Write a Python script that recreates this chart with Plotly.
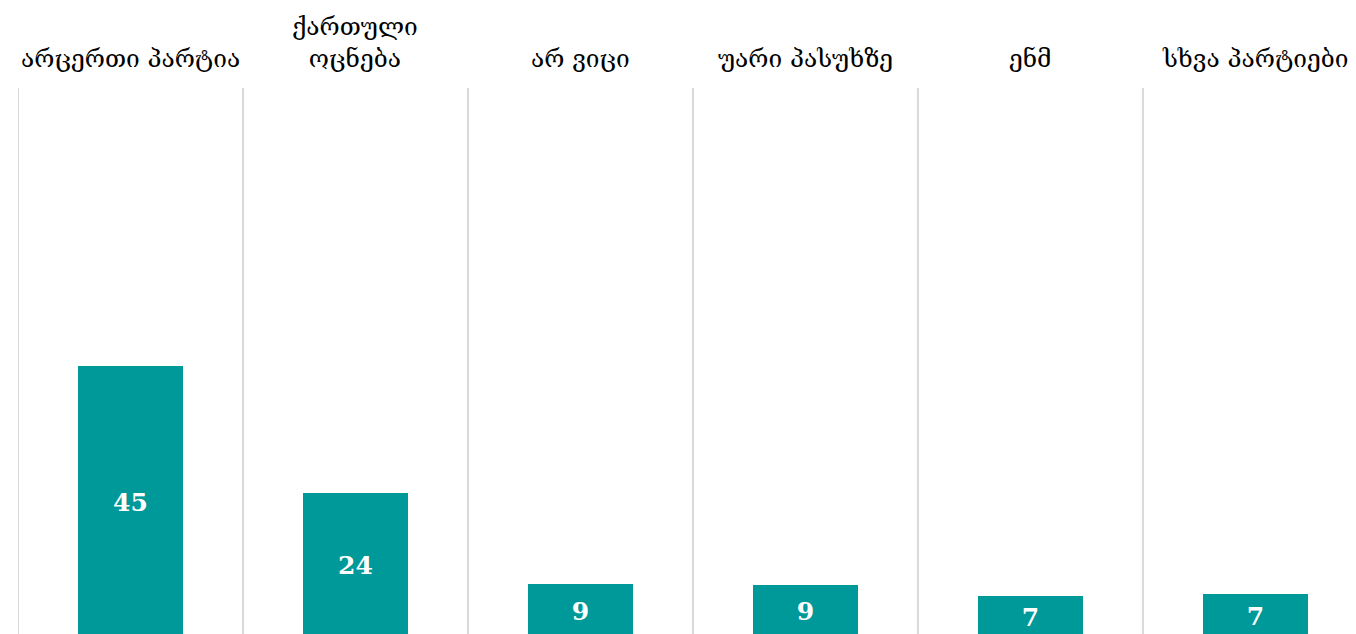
import plotly.graph_objects as go

categories = ["არცერთი პარტია", "ქართული<br>ოცნება", "არ ვიცი", "უარი პასუხზე", "ენმ", "სხვა პარტიები"]
values = [45, 24, 8.9, 8.8, 6.9, 7.3]

BAR_COLOR = "#009999"
GRID_COLOR = "#d9d9d9"
LABEL_FONT = "DejaVu Serif"
VALUE_FONT = "DejaVu Serif"

xs = list(range(len(categories)))

fig = go.Figure()
fig.add_trace(go.Bar(
    x=xs, y=values, width=0.47,
    marker=dict(color=BAR_COLOR, line=dict(width=0)),
    texttemplate="%{y:.0f}", textposition="inside", insidetextanchor="middle",
    textangle=0,
    textfont=dict(family=VALUE_FONT, size=25, color="white", weight="bold"),
    hoverinfo="skip",
))

for i in range(len(categories)):
    fig.add_shape(type="line", xref="x", yref="paper", x0=i - 0.5, x1=i - 0.5,
                  y0=0, y1=1, line=dict(color=GRID_COLOR, width=2), layer="below")

for i, c in enumerate(categories):
    fig.add_annotation(x=i, y=1, xref="x", yref="paper", text=c, showarrow=False,
                       xanchor="center", yanchor="bottom", yshift=13,
                       font=dict(family=LABEL_FONT, size=24.5, color="black"))

fig.update_layout(
    width=1348, height=626,
    margin=dict(l=10, r=0, t=80, b=0),
    paper_bgcolor="white", plot_bgcolor="white",
    showlegend=False,
    xaxis=dict(range=[-0.5, 5.447], visible=False, fixedrange=True),
    yaxis=dict(range=[0.66, 90.91], visible=False, fixedrange=True),
    bargap=0,
)

fig.write_html("out.html")
